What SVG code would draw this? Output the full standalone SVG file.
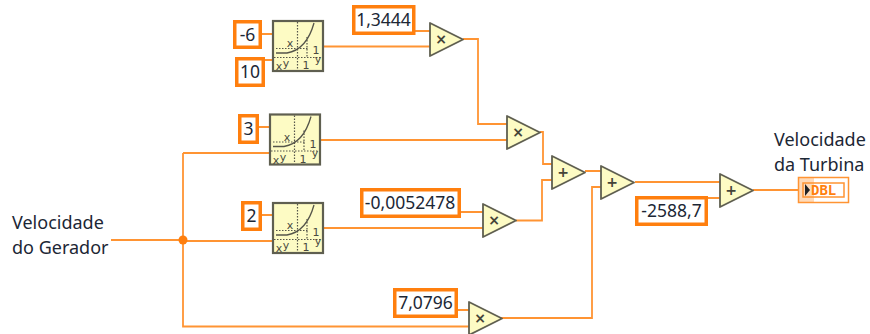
<svg xmlns="http://www.w3.org/2000/svg" width="870" height="334" viewBox="0 0 870 334">
<style>
.w{fill:none;stroke:#ff9433;stroke-width:1.8}
.c{fill:#fff;stroke:#ff7f0e;stroke-width:3.500}
.t{font-family:"Noto Sans","Liberation Sans",sans-serif;font-size:18px;fill:#1c2735}
.n{font-size:17.500px;text-anchor:middle}
.tri{fill:#fdfbc4;stroke:#5f5f50;stroke-width:1.800;stroke-linejoin:round}
.op{font-family:"DejaVu Sans",sans-serif;font-size:14px;font-weight:bold;fill:#444438;text-anchor:middle}
.box{fill:#fdfbc4;stroke:#5f5f50;stroke-width:2.200}
.ic{font-family:"DejaVu Sans",sans-serif;font-size:11px;fill:#4a4a40;text-anchor:middle}
.d{fill:none;stroke:#55554a;stroke-width:1.200;stroke-dasharray:1.500 1.500}
.cv{fill:none;stroke:#55554a;stroke-width:1.300}
</style>
<defs>
<g id="pow">
<rect class="box" x="0" y="0" width="50" height="50"/>
<path class="d" d="M24.500 1V48M1 36.500H48M3 27.500H36M34 16V36"/>
<path class="cv" d="M3 32H14C26 30 36 20 41 2"/>
<text class="ic" x="17" y="26">x</text>
<text class="ic" x="43" y="33">1</text>
<text class="ic" x="45" y="42">y</text>
<text class="ic" x="33" y="48">1</text>
<text class="ic" x="6" y="49">x</text>
<text class="ic" x="13" y="46" font-size="10">y</text>
</g>
<polygon id="tr" class="tri" points="0,0 33,16.500 0,33"/>
</defs>
<g id="connectors">
<path class="w" d="M111 240H183M183 153V326.500H469M183 153H270M183 241H273"/>
<path class="w" d="M261 34H273M264 60H273M258 127H270M261 215H273"/>
<path class="w" d="M323 46.500H430M415 31H430M463 39H478V124H507M320 140H507"/>
<path class="w" d="M323 228H483M460 212H483M457 310H469"/>
<path class="w" d="M540 132H543V164H552M516 220.500H542V180H552M585 171H601M501 318H592V187H601"/>
<path class="w" d="M635 182H720M707 198H720M753 190H799"/>
<circle cx="183" cy="240" r="4.500" fill="#ff7f0e"/>
</g>
<g id="in-label">
<text class="t" x="12" y="229">Velocidade</text>
<text class="t" x="12" y="254">do Gerador</text>
</g>
<g id="out-label">
<text class="t" x="774" y="146">Velocidade</text>
<text class="t" x="774" y="171">da Turbina</text>
</g>
<g id="c-6"><rect class="c" x="234.750" y="21.750" width="25.500" height="25.500"/><text class="t n" x="247.500" y="41">-6</text></g>
<g id="c10"><rect class="c" x="236.750" y="58.750" width="26.500" height="26.500"/><text class="t n" x="250" y="78">10</text></g>
<g id="c13444"><rect class="c" x="353.750" y="6.750" width="60" height="26.500"/><text class="t n" x="383.500" y="26">1,3444</text></g>
<g id="c3"><rect class="c" x="239.750" y="115.750" width="17.500" height="26.500"/><text class="t n" x="248.500" y="135">3</text></g>
<g id="c2"><rect class="c" x="242.750" y="202.750" width="17.500" height="26.500"/><text class="t n" x="251.500" y="222">2</text></g>
<g id="c00052"><rect class="c" x="361.750" y="189.750" width="97.500" height="26.500"/><text class="t n" x="410" y="209">-0,0052478</text></g>
<g id="c70796"><rect class="c" x="394.750" y="289.750" width="61.500" height="26.500"/><text class="t n" x="425.500" y="309">7,0796</text></g>
<g id="c2588"><rect class="c" x="636.750" y="197.750" width="69.500" height="26.500"/><text class="t n" x="671.500" y="217">-2588,7</text></g>
<g id="pow1"><use href="#pow" x="273" y="21"/></g>
<g id="pow2"><use href="#pow" x="270" y="114.500"/></g>
<g id="pow3"><use href="#pow" x="273" y="203"/></g>
<g id="mul1"><use href="#tr" x="430" y="23"/><text class="op" x="441" y="44">×</text></g>
<g id="mul2"><use href="#tr" x="507" y="116"/><text class="op" x="518" y="137">×</text></g>
<g id="mul3"><use href="#tr" x="483" y="204"/><text class="op" x="494" y="225">×</text></g>
<g id="mul4"><use href="#tr" x="469" y="302"/><text class="op" x="480" y="323">×</text></g>
<g id="add1"><use href="#tr" x="552" y="156"/><text class="op" x="563" y="177">+</text></g>
<g id="add2"><use href="#tr" x="601" y="166"/><text class="op" x="612" y="187">+</text></g>
<g id="add3"><use href="#tr" x="720" y="174"/><text class="op" x="731" y="195">+</text></g>
<g id="indicator">
<rect x="798.500" y="177.500" width="50" height="25" fill="#fff" stroke="#ff9433" stroke-width="1.500"/>
<rect x="803" y="183" width="41" height="14" fill="#fff" stroke="#ff9433" stroke-width="1.500"/>
<rect x="799" y="178" width="15" height="24" fill="#ff9433" fill-opacity=".35"/>
<polygon points="805,184 810,190 805,196" fill="#222"/>
<text x="811" y="195" font-family="DejaVu Sans Mono,monospace" font-size="14" font-weight="bold" fill="#ff7f0e">DBL</text>
</g>
</svg>
